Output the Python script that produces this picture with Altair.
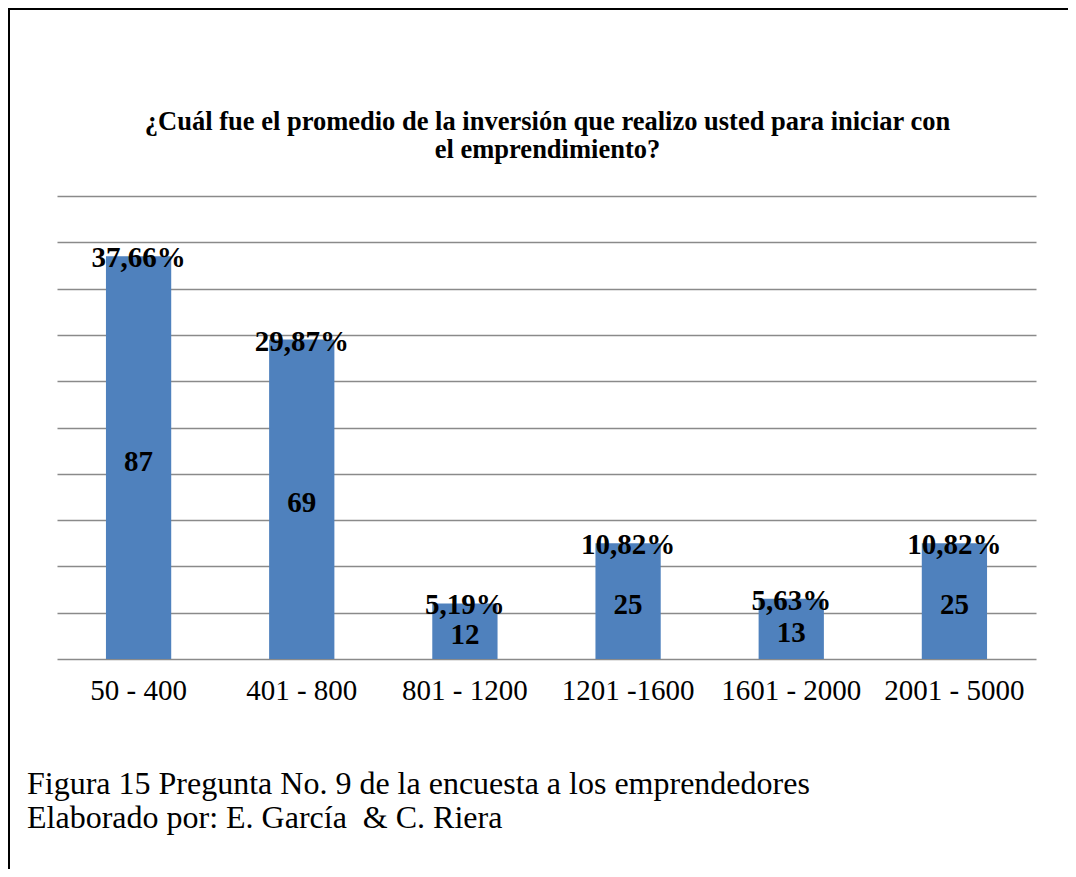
import altair as alt
import pandas as pd

categories = ["50 - 400", "401 - 800", "801 - 1200", "1201 -1600", "1601 - 2000", "2001 - 5000"]
counts = [87, 69, 12, 25, 13, 25]
percents = ["37,66%", "29,87%", "5,19%", "10,82%", "5,63%", "10,82%"]

title_lines = ["¿Cuál fue el promedio de la inversión que realizo usted para iniciar con",
               "el emprendimiento?"]
caption_lines = ["Figura 15 Pregunta No. 9 de la encuesta a los emprendedores",
                 "Elaborado por: E. García\u00a0 & C. Riera"]

df = pd.DataFrame({"cat": categories, "n": counts, "pct": percents})
df["half"] = df["n"] / 2

SERIF = "Liberation Serif"
W, H = 979, 463

x_enc = alt.X("cat:N", sort=categories, title=None,
              scale=alt.Scale(paddingInner=0.6, paddingOuter=0.3),
              axis=alt.Axis(labelAngle=0, ticks=False, domain=False,
                            labelFont=SERIF, labelFontSize=29, labelColor="#000000",
                            labelPadding=17, grid=False))
y_enc = alt.Y("n:Q", title=None,
              scale=alt.Scale(domain=[0, 100], nice=False),
              axis=alt.Axis(values=list(range(0, 101, 10)), labels=False, ticks=False,
                            domain=False, grid=True, gridColor="#8a8a8a", gridWidth=1.6))

base = alt.Chart(df)
bars = base.mark_bar(color="#4F81BD").encode(x=x_enc, y=y_enc)

pct_text = base.mark_text(font=SERIF, fontSize=29, fontWeight="bold", color="#000000",
                          baseline="middle", dy=2).encode(
    x=alt.X("cat:N", sort=categories), y=alt.Y("n:Q"), text="pct:N")
cnt_text = base.mark_text(font=SERIF, fontSize=29, fontWeight="bold", color="#000000",
                          baseline="middle", dy=4).encode(
    x=alt.X("cat:N", sort=categories), y=alt.Y("half:Q"), text="n:Q")

dummy = alt.Data(values=[{"a": 0}])
t1 = alt.Chart(dummy).mark_text(font=SERIF, fontSize=26.5, fontWeight="bold", color="#000000",
                                align="center", baseline="middle").encode(
    x=alt.value(W / 2 + 1), y=alt.value(-74), text=alt.value(title_lines[0]))
t2 = alt.Chart(dummy).mark_text(font=SERIF, fontSize=26.5, fontWeight="bold", color="#000000",
                                align="center", baseline="middle").encode(
    x=alt.value(W / 2 + 1), y=alt.value(-46), text=alt.value(title_lines[1]))
c1 = alt.Chart(dummy).mark_text(font=SERIF, fontSize=32, color="#000000",
                                align="left", baseline="middle").encode(
    x=alt.value(-30), y=alt.value(588), text=alt.value(caption_lines[0]))
c2 = alt.Chart(dummy).mark_text(font=SERIF, fontSize=32, color="#000000",
                                align="left", baseline="middle").encode(
    x=alt.value(-30), y=alt.value(622), text=alt.value(caption_lines[1]))

top_border = alt.Chart(dummy).mark_rule(color="#000000", strokeWidth=2).encode(
    x=alt.value(-49), x2=alt.value(1012), y=alt.value(-187))
left_border = alt.Chart(dummy).mark_rule(color="#000000", strokeWidth=2).encode(
    x=alt.value(-48), y=alt.value(-188), y2=alt.value(680))

chart = alt.layer(bars, pct_text, cnt_text, t1, t2, c1, c2, top_border, left_border).properties(
    width=W, height=H,
    padding={"left": 49, "top": 188, "right": 32, "bottom": 210},
    autosize=alt.AutoSizeParams(type="none"),
    background="#ffffff",
).configure_view(stroke=None)

chart.save("out.html", embed_options={"renderer": "svg", "actions": False})
